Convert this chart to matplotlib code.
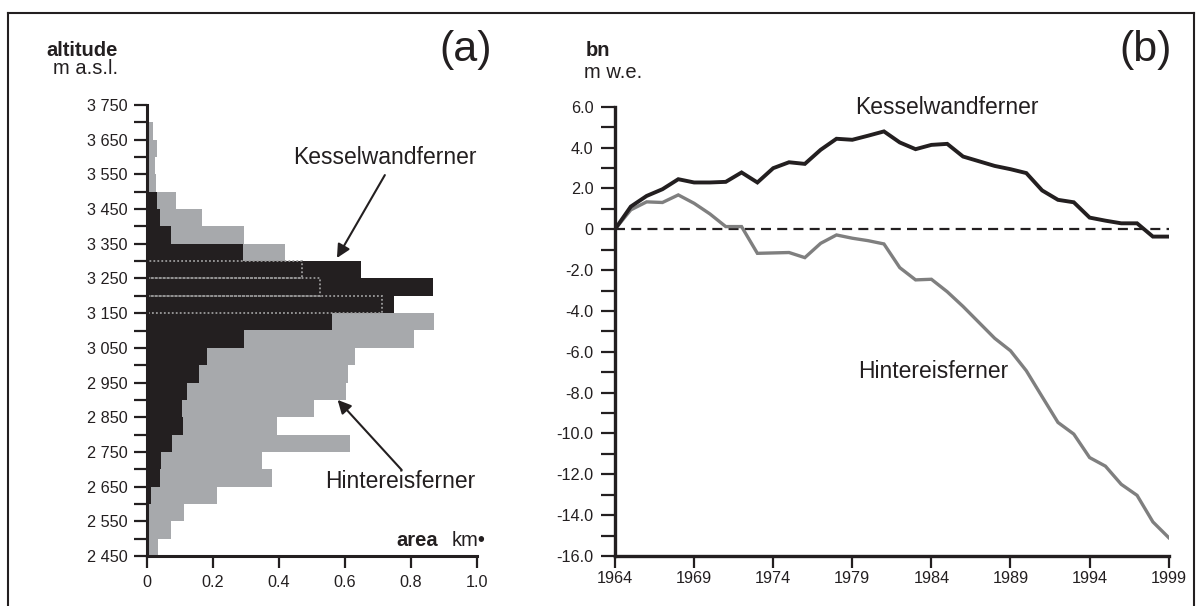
import matplotlib
matplotlib.use("Agg")
import matplotlib.pyplot as plt
from matplotlib.patches import Rectangle
from matplotlib.lines import Line2D
import numpy as np

plt.rcParams['font.family'] = ['Liberation Sans', 'DejaVu Sans']

# ---------------- data ----------------
# panel (a): area per 50 m altitude band (band lower edge, m a.s.l.)
alt_bottom = [2450, 2500, 2550, 2600, 2650, 2700, 2750, 2800, 2850, 2900,
              2950, 3000, 3050, 3100, 3150, 3200, 3250, 3300, 3350, 3400,
              3450, 3500, 3550, 3600, 3650, 3700]
area_hef = [0.035, 0.075, 0.114, 0.213, 0.38, 0.35, 0.616, 0.395, 0.505, 0.603,
            0.609, 0.631, 0.81, 0.87, 0.71, 0.523, 0.468, 0.42, 0.295, 0.166,
            0.088, 0.027, 0.024, 0.032, 0.02, 0.0]
area_kwf = [0.0, 0.0, 0.003, 0.014, 0.039, 0.044, 0.078, 0.109, 0.106, 0.123,
            0.157, 0.183, 0.295, 0.561, 0.75, 0.866, 0.648, 0.292, 0.075, 0.04,
            0.032, 0.0, 0.0, 0.0, 0.0, 0.0]
alt_ticks = [2450, 2550, 2650, 2750, 2850, 2950, 3050, 3150, 3250, 3350,
             3450, 3550, 3650, 3750]
alt_ticklabels = ['2 450', '2 550', '2 650', '2 750', '2 850', '2 950', '3 050',
                  '3 150', '3 250', '3 350', '3 450', '3 550', '3 650', '3 750']
area_ticks = [0, 0.2, 0.4, 0.6, 0.8, 1.0]
area_ticklabels = ['0', '0.2', '0.4', '0.6', '0.8', '1.0']

# panel (b): cumulative mass balance (m w.e.)
years = list(range(1964, 2000))
bn_kwf = [0.0, 1.11, 1.63, 1.96, 2.45, 2.29, 2.29, 2.32, 2.78, 2.29,
          2.99, 3.28, 3.2, 3.89, 4.43, 4.38, 4.58, 4.79, 4.25, 3.92,
          4.13, 4.18, 3.56, 3.33, 3.1, 2.94, 2.75, 1.9, 1.44, 1.32,
          0.57, 0.42, 0.29, 0.29, -0.36, -0.36]
bn_hef = [0.0, 0.95, 1.34, 1.31, 1.68, 1.27, 0.75, 0.13, 0.13, -1.18,
          -1.16, -1.14, -1.39, -0.69, -0.28, -0.44, -0.56, -0.72, -1.88, -2.48,
          -2.45, -3.06, -3.78, -4.56, -5.34, -5.95, -6.93, -8.2, -9.46, -10.03,
          -11.18, -11.6, -12.49, -13.03, -14.33, -15.1]
bn_ticks = [-16, -14, -12, -10, -8, -6, -4, -2, 0, 2, 4, 6]
bn_ticklabels = ['-16.0', '-14.0', '-12.0', '-10.0', '-8.0', '-6.0', '-4.0',
                 '-2.0', '0', '2.0', '4.0', '6.0']
year_ticks = [1964, 1969, 1974, 1979, 1984, 1989, 1994, 1999]

# ---------------- style ----------------
BLACK = '#231f20'
GREY_BAR = '#a7a9ac'
GREY_LINE = '#7f7f7f'
DOT = '#9b9b9b'

W, H = 1198, 606
def fx(px): return px / W
def fy(py): return 1 - py / H

fig = plt.figure(figsize=(W / 100, H / 100), dpi=100)

# ---------------- panel (a) ----------------
axL = fig.add_axes([fx(146.7), fy(556), (477 - 146.7) / W, (556 - 105) / H])
axL.barh(alt_bottom, area_hef, height=50, align='edge', color=GREY_BAR, lw=0, zorder=1)
axL.barh(alt_bottom, area_kwf, height=50, align='edge', color=BLACK, lw=0, zorder=2)
for b, h, k in zip(alt_bottom, area_hef, area_kwf):
    if 0 < h < k:
        axL.add_patch(Rectangle((0.003, b), h, 50, fill=False, ec=DOT,
                                ls=(0, (1, 1.2)), lw=1.3, zorder=3))
axL.set_xlim(0, 1)
axL.set_ylim(2450, 3750)
for s in ('top', 'right'):
    axL.spines[s].set_visible(False)
for s in ('left', 'bottom'):
    axL.spines[s].set_linewidth(2.2)
    axL.spines[s].set_color(BLACK)
    axL.spines[s].set_zorder(5)
axL.set_yticks(alt_ticks)
axL.set_yticklabels(alt_ticklabels)
axL.set_yticks(np.array(alt_ticks[:-1]) + 50, minor=True)
axL.set_xticks(area_ticks)
axL.set_xticklabels(area_ticklabels)
axL.tick_params(axis='y', which='both', direction='out', length=9.5, width=1.6,
                color=BLACK, labelsize=11.7, labelcolor=BLACK, pad=4)
axL.tick_params(axis='x', which='both', direction='out', length=8.6, width=1.6,
                color=BLACK, labelsize=11.7, labelcolor=BLACK, pad=5)
axL.patch.set_alpha(0)

axL.annotate('', xy=(0.576, 3309), xytext=(0.721, 3548),
             arrowprops=dict(arrowstyle='-|>', lw=1.5, color=BLACK,
                             mutation_scale=20, shrinkA=0, shrinkB=0))
axL.annotate('', xy=(0.578, 2900), xytext=(0.772, 2698),
             arrowprops=dict(arrowstyle='-|>', lw=1.5, color=BLACK,
                             mutation_scale=20, shrinkA=0, shrinkB=0))

# ---------------- panel (b) ----------------
axR = fig.add_axes([fx(615), fy(556), (1168.7 - 615) / W, (556 - 106.7) / H])
axR.axhline(0, color=BLACK, lw=1.6, dashes=(4.5, 2.8), zorder=1)
axR.plot(years, bn_hef, color=GREY_LINE, lw=2.4, zorder=2, solid_joinstyle='miter')
axR.plot(years, bn_kwf, color=BLACK, lw=2.8, zorder=3, solid_joinstyle='miter')
axR.set_xlim(1964, 1999)
axR.set_ylim(-16, 6)
for s in ('top', 'right'):
    axR.spines[s].set_visible(False)
for s in ('left', 'bottom'):
    axR.spines[s].set_linewidth(2.4)
    axR.spines[s].set_color(BLACK)
axR.set_yticks(bn_ticks)
axR.set_yticklabels(bn_ticklabels)
axR.set_yticks(np.array(bn_ticks[:-1]) + 1, minor=True)
axR.set_xticks(year_ticks)
axR.set_xticklabels([str(y) for y in year_ticks])
axR.tick_params(axis='y', which='both', direction='out', length=10, width=1.6,
                color=BLACK, labelsize=11.7, labelcolor=BLACK, pad=5.5)
axR.tick_params(axis='x', which='both', direction='out', length=8.6, width=1.6,
                color=BLACK, labelsize=11.7, labelcolor=BLACK, pad=2)
axR.patch.set_alpha(0)

# ---------------- texts ----------------
fig.text(fx(46), fy(50), 'altitude', fontsize=14.5, fontweight='bold', color=BLACK,
         ha='left', va='center')
fig.text(fx(53), fy(68), 'm a.s.l.', fontsize=14.5, color=BLACK, ha='left', va='center')
fig.text(fx(466), fy(50), '(a)', fontsize=31, color=BLACK, ha='center', va='center')
fig.text(fx(586), fy(50), 'bn', fontsize=14.5, fontweight='bold', color=BLACK,
         ha='left', va='center')
fig.text(fx(584), fy(72), 'm w.e.', fontsize=14.5, color=BLACK, ha='left', va='center')
fig.text(fx(1146), fy(50), '(b)', fontsize=31, color=BLACK, ha='center', va='center')

fig.text(fx(293), fy(158), 'Kesselwandferner', fontsize=16.5, color=BLACK,
         ha='left', va='center')
fig.text(fx(325), fy(482), 'Hintereisferner', fontsize=16.5, color=BLACK,
         ha='left', va='center')
fig.text(fx(855), fy(108), 'Kesselwandferner', fontsize=16.5, color=BLACK,
         ha='left', va='center')
fig.text(fx(858), fy(372), 'Hintereisferner', fontsize=16.5, color=BLACK,
         ha='left', va='center')
fig.text(fx(438), fy(540), 'area', fontsize=14.5, fontweight='bold', color=BLACK,
         ha='right', va='center')
fig.text(fx(452), fy(540), 'km•', fontsize=14.5, color=BLACK, ha='left', va='center')

# ---------------- frame ----------------
for xs, ys in (([8.3, 8.3], [12.7, 606]), ([8.3, 1194], [12.7, 12.7]),
               ([1194, 1194], [12.7, 606])):
    fig.add_artist(Line2D([fx(x) for x in xs], [fy(y) for y in ys],
                          color=BLACK, lw=1.5))

fig.savefig('out.png', dpi=100)
